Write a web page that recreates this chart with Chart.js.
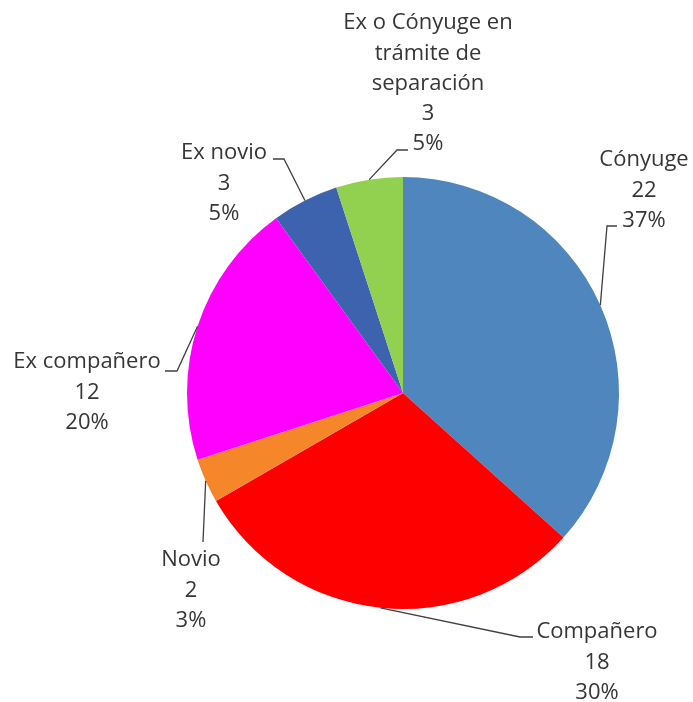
<!DOCTYPE html>
<html>
<head>
<meta charset="utf-8">
<script src="https://cdn.jsdelivr.net/npm/chart.js@4/dist/chart.umd.min.js"></script>
<style>
  html, body { margin: 0; padding: 0; background: #fff; }
  #wrap { width: 693px; height: 702px; }
</style>
</head>
<body>
<div id="wrap"><canvas id="pie"></canvas></div>
<script>
const categories = ["Cónyuge", "Compañero", "Novio", "Ex compañero", "Ex novio", "Ex o Cónyuge en trámite de separación"];
const values = [22, 18, 2, 12, 3, 3];
const colors = ["#4F86BD", "#FF0000", "#F5862A", "#FF00FF", "#3D63AE", "#92D050"];

// label text lines (name split as in the picture) and where each label sits
const nameLines = [["Cónyuge"], ["Compañero"], ["Novio"], ["Ex compañero"], ["Ex novio"], ["Ex o Cónyuge en", "trámite de", "separación"]];
const labelLayout = [
  { x: 644, y: 160, leader: [[607, 226], [617, 226]] },
  { x: 597, y: 632, leader: [[520, 637], [533, 637]] },
  { x: 191, y: 560, leader: [[203, 542]] },
  { x: 87, y: 362, leader: [[177, 371], [165, 371]] },
  { x: 224, y: 153, leader: [[284, 159], [273, 159]] },
  { x: 428, y: 23, leader: [[397, 150], [408, 150]] }
];
const lineHeight = 30.3;

const total = values.reduce((a, b) => a + b, 0);

const labelPlugin = {
  id: "pieLabels",
  afterDatasetsDraw(chart) {
    const ctx = chart.ctx;
    const arcs = chart.getDatasetMeta(0).data;
    ctx.save();
    arcs.forEach((arc, i) => {
      const mid = (arc.startAngle + arc.endAngle) / 2;
      const sx = arc.x + Math.cos(mid) * arc.outerRadius;
      const sy = arc.y + Math.sin(mid) * arc.outerRadius;
      const lay = labelLayout[i];
      ctx.beginPath();
      ctx.moveTo(sx, sy);
      lay.leader.forEach(p => ctx.lineTo(p[0], p[1]));
      ctx.strokeStyle = "#404040";
      ctx.lineWidth = 1.3;
      ctx.stroke();

      const lines = nameLines[i].concat([String(values[i]), Math.round(values[i] / total * 100) + "%"]);
      ctx.fillStyle = "#363636";
      ctx.font = "22px 'Open Sans'";
      ctx.textAlign = "center";
      ctx.textBaseline = "middle";
      lines.forEach((t, k) => ctx.fillText(t, lay.x, lay.y + k * lineHeight));
    });
    ctx.restore();
  }
};

new Chart(document.getElementById("pie"), {
  type: "pie",
  data: {
    labels: categories,
    datasets: [{
      data: values,
      backgroundColor: colors,
      borderWidth: 0
    }]
  },
  options: {
    responsive: true,
    maintainAspectRatio: false,
    animation: false,
    layout: { padding: { left: 187, right: 74, top: 177, bottom: 93 } },
    plugins: {
      legend: { display: false },
      tooltip: { enabled: false }
    }
  },
  plugins: [labelPlugin]
});
</script>
</body>
</html>
